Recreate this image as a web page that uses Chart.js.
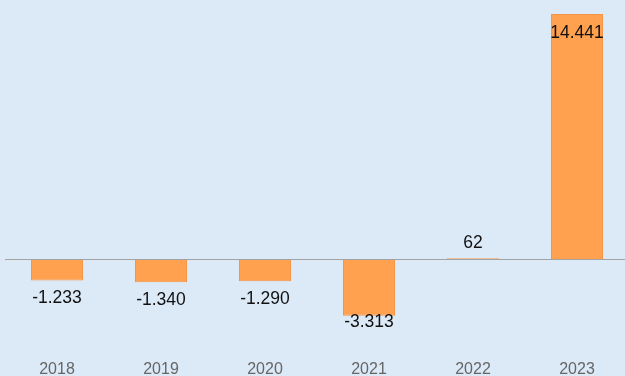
<!DOCTYPE html>
<html>
<head>
<meta charset="utf-8">
<script src="https://cdn.jsdelivr.net/npm/chart.js@4.4.1/dist/chart.umd.min.js"></script>
<style>
  html, body { margin: 0; padding: 0; background: #dce9f6; overflow: hidden; }
  #wrap { position: relative; width: 630px; height: 408px; }
</style>
</head>
<body>
<div id="wrap"><canvas id="chart"></canvas></div>
<script>
// data
const years = ["2018", "2019", "2020", "2021", "2022", "2023"];
const results = [-1233, -1340, -1290, -3313, 62, 14441];
const yMin = -4200;
const yMax = 14441;

// 14441 -> "14.441"
function fmt(v) {
  const s = Math.abs(v).toString().replace(/\B(?=(\d{3})+(?!\d))/g, ".");
  return (v < 0 ? "-" : "") + s;
}

// value labels: outside the bar end, flipped inside / clamped when no room
const valueLabels = {
  id: "valueLabels",
  afterDatasetsDraw(chart) {
    const ctx = chart.ctx;
    const area = chart.chartArea;
    const meta = chart.getDatasetMeta(0);
    const capH = 12.5;
    ctx.save();
    ctx.font = "17.5px 'Liberation Sans', Arial, sans-serif";
    ctx.fillStyle = "#111";
    ctx.textAlign = "center";
    ctx.textBaseline = "alphabetic";
    meta.data.forEach((bar, i) => {
      const v = results[i];
      let base;
      if (v >= 0) {
        base = bar.y - 10.5;
        if (base - capH < area.top) base = bar.y + 11 + capH;
      } else {
        base = bar.y + 10.5 + capH;
        if (base > area.bottom - 4) base = area.bottom - 4;
      }
      ctx.fillText(fmt(v), bar.x, base);
    });
    ctx.restore();
  }
};

const ctx = document.getElementById("chart").getContext("2d");
new Chart(ctx, {
  type: "bar",
  data: {
    labels: years,
    datasets: [{
      data: results,
      backgroundColor: "#ffa14f",
      borderColor: "#f39545",
      borderWidth: 1,
      barPercentage: 0.5,
      categoryPercentage: 1.0
    }]
  },
  options: {
    responsive: true,
    maintainAspectRatio: false,
    animation: false,
    layout: { padding: { top: 14, left: 5, right: 1, bottom: 0 } },
    plugins: {
      legend: { display: false },
      tooltip: { enabled: false }
    },
    scales: {
      x: {
        grid: { display: false, drawTicks: false },
        border: { display: false },
        ticks: {
          padding: 29,
          color: "#666",
          font: { family: "'Liberation Sans', Arial, sans-serif", size: 16 }
        }
      },
      y: {
        min: yMin,
        max: yMax,
        border: { display: false },
        ticks: { display: false },
        grid: {
          drawTicks: false,
          color: (c) => (c.tick && c.tick.value === 0 ? "#a3a3a3" : "rgba(0,0,0,0)"),
          lineWidth: 1
        },
        afterBuildTicks: (axis) => { axis.ticks = [{ value: 0 }]; }
      }
    }
  },
  plugins: [valueLabels]
});
</script>
</body>
</html>
